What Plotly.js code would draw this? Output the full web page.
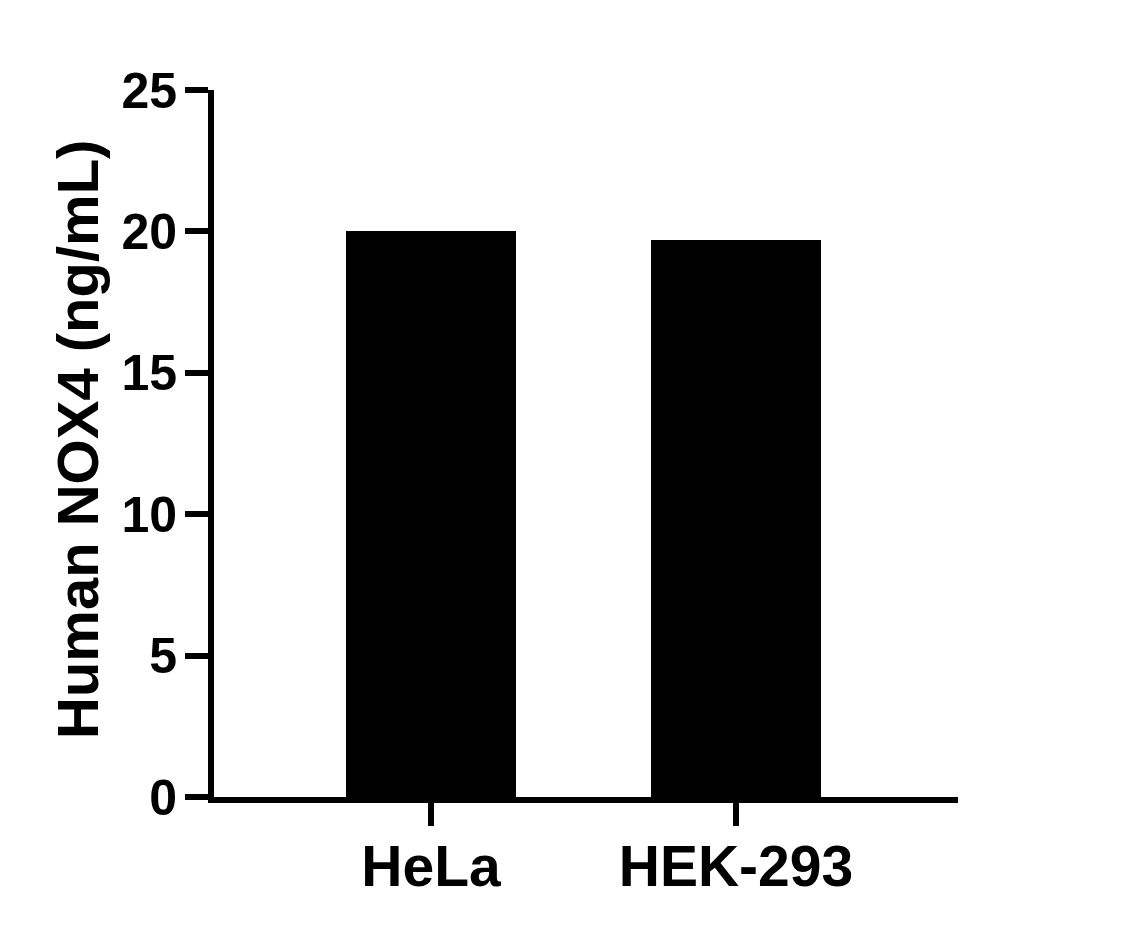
<!DOCTYPE html>
<html>
<head>
<meta charset="utf-8">
<script src="https://cdn.plot.ly/plotly-3.0.1.min.js"></script>
<style>html,body{margin:0;padding:0;background:#fff;}#chart{width:1137px;height:934px;}</style>
</head>
<body>
<div id="chart"></div>
<script>
const categories = ["HeLa", "HEK-293"];
const values = [20.0, 19.7];
const yTickValues = [0, 5, 10, 15, 20, 25];
const yTitle = "Human NOX4 (ng/mL)";

const fontFam = "Liberation Sans, Arial, sans-serif";

const trace = {
  type: "bar",
  x: categories,
  y: values,
  width: 0.557,
  marker: {color: "#000000", line: {width: 0}},
  hoverinfo: "x+y"
};

const layout = {
  width: 1137,
  height: 934,
  margin: {l: 214, r: 179, t: 90, b: 137, pad: 0},
  paper_bgcolor: "#ffffff",
  plot_bgcolor: "#ffffff",
  showlegend: false,
  bargap: 0,
  xaxis: {
    type: "category",
    range: [-0.7115, 1.728],
    showline: true,
    linecolor: "#000",
    linewidth: 6,
    ticks: "outside",
    ticklen: 23,
    tickwidth: 6,
    tickcolor: "#000",
    showgrid: false,
    zeroline: false,
    tickfont: {family: fontFam, size: 57, color: "#000", weight: "bold"},
    ticklabelstandoff: -8
  },
  yaxis: {
    range: [0, 25],
    tickvals: yTickValues,
    ticktext: yTickValues.map(String),
    showline: true,
    linecolor: "#000",
    linewidth: 6,
    ticks: "outside",
    ticklen: 23,
    tickwidth: 6,
    tickcolor: "#000",
    showgrid: false,
    zeroline: false,
    tickfont: {family: fontFam, size: 50, color: "#000", weight: "bold"},
    ticklabelstandoff: -2
  },
  annotations: [{
    text: yTitle,
    xref: "paper", yref: "paper",
    x: -(214 - 78) / 744, y: 0.505,
    xanchor: "center", yanchor: "middle",
    textangle: -90,
    showarrow: false,
    font: {family: fontFam, size: 58, color: "#000", weight: "bold"}
  }]
};

Plotly.newPlot("chart", [trace], layout, {displayModeBar: false, staticPlot: true});
</script>
</body>
</html>
